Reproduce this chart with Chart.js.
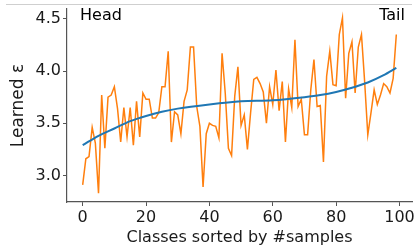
<!DOCTYPE html>
<html>
<head>
<meta charset="utf-8">
<script src="https://cdn.jsdelivr.net/npm/chart.js@4/dist/chart.umd.min.js"></script>
<style>
  html, body { margin: 0; padding: 0; background: #fff; }
  #wrap { width: 417px; height: 248px; position: relative; }
</style>
</head>
<body>
<div id="wrap"><canvas id="epsChart"></canvas></div>
<script>
// learned epsilon per class, classes sorted by #samples (head -> tail)
const learnedEps = [
    2.91, 3.16, 3.18, 3.46, 3.31, 2.83, 3.77, 3.26, 3.75, 3.77,
    3.85, 3.64, 3.32, 3.65, 3.37, 3.65, 3.29, 3.71, 3.37, 3.79,
    3.73, 3.73, 3.55, 3.55, 3.60, 3.85, 3.85, 4.19, 3.32, 3.61,
    3.58, 3.40, 3.71, 3.82, 4.23, 4.23, 3.66, 3.47, 2.89, 3.40,
    3.50, 3.48, 3.47, 3.36, 4.17, 3.79, 3.26, 3.19, 3.76, 4.04,
    3.48, 3.58, 3.25, 3.60, 3.92, 3.94, 3.88, 3.80, 3.50, 3.85,
    3.68, 4.01, 3.62, 3.90, 3.32, 3.83, 3.65, 4.30, 3.66, 3.73,
    3.39, 3.39, 3.82, 4.11, 3.66, 3.67, 3.13, 3.95, 4.19, 3.87,
    3.86, 4.35, 4.51, 3.74, 4.17, 4.28, 3.79, 4.23, 4.35, 3.90,
    3.39, 3.60, 3.82, 3.68, 3.77, 3.88, 3.85, 3.79, 3.93, 4.35
];

// smooth trend curve, read at a few classes
const trendClasses = [0, 5, 10, 15, 20, 25, 30, 40, 50, 60, 70, 75, 80, 85, 90, 95, 99];
const trendEps = [3.29, 3.38, 3.45, 3.52, 3.57, 3.61, 3.64, 3.68, 3.71, 3.72, 3.75, 3.77, 3.80, 3.84, 3.89, 3.96, 4.03];

const xTicks = [0, 20, 40, 60, 80, 100];
const yTicks = [3.0, 3.5, 4.0, 4.5];

const tickFont = { family: 'DejaVu Sans', size: 16 };
const inkColor = '#1a1a1a';
const spineColor = '#555';

const headTail = {
    id: 'headTail',
    afterDraw(chart) {
        const ctx = chart.ctx;
        ctx.save();
        // thin frame line at the top of the picture
        ctx.strokeStyle = '#cfcfcf';
        ctx.lineWidth = 1;
        ctx.beginPath();
        ctx.moveTo(6, 4.5);
        ctx.lineTo(412, 4.5);
        ctx.stroke();
        ctx.fillStyle = '#000';
        ctx.font = '16px "DejaVu Sans"';
        ctx.textBaseline = 'alphabetic';
        ctx.textAlign = 'left';
        ctx.fillText('Head', 80, 19.5);
        ctx.textAlign = 'right';
        ctx.fillText('Tail', 405, 19.5);
        ctx.restore();
    }
};

const ctx = document.getElementById('epsChart').getContext('2d');
new Chart(ctx, {
    type: 'line',
    data: {
        datasets: [
            {
                data: trendClasses.map((c, i) => ({ x: c, y: trendEps[i] })),
                borderColor: '#1f77b4',
                borderWidth: 2,
                pointRadius: 0,
                cubicInterpolationMode: 'monotone',
                fill: false
            },
            {
                data: learnedEps.map((v, i) => ({ x: i, y: v })),
                borderColor: '#ff7f0e',
                borderWidth: 1.5,
                pointRadius: 0,
                tension: 0,
                fill: false
            }
        ]
    },
    options: {
        responsive: true,
        maintainAspectRatio: false,
        animation: false,
        layout: { padding: { top: 9, right: 5, left: 0, bottom: 0 } },
        plugins: {
            legend: { display: false },
            tooltip: { enabled: false }
        },
        scales: {
            x: {
                type: 'linear',
                min: -4.95,
                max: 103.95,
                afterBuildTicks: (scale) => { scale.ticks = xTicks.map(v => ({ value: v })); },
                afterFit: (scale) => {
                    scale.height = 46;
                    scale.paddingLeft = 0;
                    scale.paddingRight = 0;
                },
                grid: {
                    drawOnChartArea: false,
                    drawTicks: true,
                    tickLength: 4,
                    tickColor: spineColor,
                    tickWidth: 1
                },
                border: { display: true, color: spineColor, width: 1.2 },
                ticks: {
                    font: tickFont,
                    color: inkColor,
                    padding: 2,
                    maxRotation: 0,
                    autoSkip: false
                },
                title: {
                    display: true,
                    text: 'Classes sorted by #samples',
                    font: { family: 'DejaVu Sans', size: 16 },
                    color: inkColor,
                    padding: { top: 0, bottom: 1 }
                }
            },
            y: {
                min: 2.746,
                max: 4.594,
                afterBuildTicks: (scale) => { scale.ticks = yTicks.map(v => ({ value: v })); },
                afterFit: (scale) => {
                    scale.width = 67;
                    scale.paddingTop = 0;
                    scale.paddingBottom = 0;
                },
                grid: {
                    drawOnChartArea: false,
                    drawTicks: true,
                    tickLength: 4,
                    tickColor: spineColor,
                    tickWidth: 1
                },
                border: { display: true, color: spineColor, width: 1.2 },
                ticks: {
                    font: tickFont,
                    color: inkColor,
                    padding: 2,
                    callback: (v) => Number(v).toFixed(1)
                },
                title: {
                    display: true,
                    text: 'Learned ε',
                    font: { family: 'DejaVu Sans', size: 17 },
                    color: inkColor,
                    padding: { top: 8, bottom: 0 }
                }
            }
        }
    },
    plugins: [headTail]
});
</script>
</body>
</html>
